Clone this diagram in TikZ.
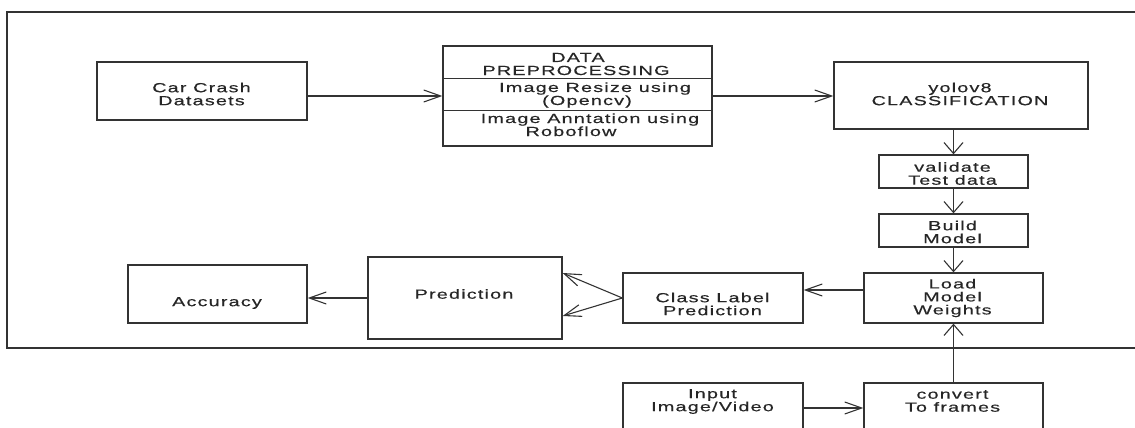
\documentclass[tikz,border=0pt]{standalone}
\usepackage{fontspec}
\setmainfont{Liberation Sans}[FakeStretch=1.5,LetterSpace=9,FakeBold=0.4]
\usetikzlibrary{arrows.meta}
\definecolor{linec}{HTML}{333333}
\definecolor{txtc}{HTML}{262626}
\tikzset{
  box/.style={draw=linec, line width=1.3pt, inner sep=0pt},
  txt/.style={text=txtc, font=\fontsize{13.2}{13}\selectfont, align=center, inner sep=0pt},
  harr/.style={draw=linec, line width=1.1pt, -{Straight Barb[length=17pt,width=12pt]}},
  varr/.style={draw=linec, line width=1.1pt, -{Straight Barb[length=11pt,width=19pt]}},
}
\begin{document}
\begin{tikzpicture}[x=1pt,y=-1pt]
\useasboundingbox (0,0) rectangle (1135,428);
\clip (0,0) rectangle (1135,428);
% outer frame
\draw[draw=linec, line width=1.4pt] (1136,12) -- (7,12) -- (7,348) -- (1136,348);
% boxes
\node[box, minimum width=210pt, minimum height=58pt] (cc) at (202,91) {};
\node[box, minimum width=269pt, minimum height=100pt] (dp) at (577.5,96) {};
\node[box, minimum width=254pt, minimum height=67pt] (yolo) at (961,95.5) {};
\node[box, minimum width=149pt, minimum height=33pt] (val) at (953.5,171.5) {};
\node[box, minimum width=149pt, minimum height=33pt] (build) at (953.5,230.5) {};
\node[box, minimum width=179pt, minimum height=50pt] (load) at (953.5,298) {};
\node[box, minimum width=180pt, minimum height=50pt] (cls) at (713,298) {};
\node[box, minimum width=194pt, minimum height=82pt] (pred) at (465,298) {};
\node[box, minimum width=179pt, minimum height=58pt] (acc) at (217.5,294) {};
\node[box, minimum width=180pt, minimum height=60pt] (inp) at (713,413) {};
\node[box, minimum width=179pt, minimum height=60pt] (conv) at (953.5,413) {};
% dividers in data preprocessing
\coordinate (d1) at (443,79);
\coordinate (d2) at (443,110);
\draw[draw=linec, line width=1pt] (d1) -- (dp.east |- d1);
\draw[draw=linec, line width=1pt] (d2) -- (dp.east |- d2);
% texts
\node[txt] (tcc) at (201.5,94) {Car Crash\\Datasets};
\node[txt, anchor=base] (tdp1) at (578,62) {DATA};
\node[txt, anchor=base] (tdp2) at (576,75) {PREPROCESSING};
\node[txt, anchor=base] (tdp3) at (595,92) {Image Resize using};
\node[txt, anchor=base] (tdp4) at (587,105) {(Opencv)};
\node[txt, anchor=base] (tdp5) at (590,123) {Image Anntation using};
\node[txt, anchor=base] (tdp6) at (571,136) {Roboflow};
\node[txt] (tyolo) at (960,94) {yolov8\\CLASSIFICATION};
\node[txt] (tval) at (952.5,173.5) {validate\\Test data};
\node[txt] (tbuild) at (952.5,232) {Build\\Model};
\node[txt] (tload) at (952.5,298) {Load\\Model\\Weights};
\node[txt] (tcls) at (712.5,304) {Class Label\\Prediction};
\node[txt] (tpred) at (464,294) {Prediction};
\node[txt] (tacc) at (217,303) {Accuracy};
\node[txt] (tinp) at (712.5,401.5) {Input\\Image/Video};
\node[txt] (tconv) at (952.5,401) {convert\\To frames};
% connectors
\draw[harr] (cc.east |- dp.west) -- (dp.west);
\draw[harr] (dp.east) -- (yolo.west |- dp.east);
\draw[varr] (yolo.south -| val.north) -- (val.north);
\draw[varr] (val.south) -- (build.north);
\draw[varr] (build.south) -- (load.north);
\coordinate (lw) at ([yshift=8pt]load.west);
\draw[harr] (lw) -- (cls.east |- lw);
\draw[harr] (cls.west) -- ([yshift=25pt]pred.east);
\draw[harr] (cls.west) -- ([yshift=-18pt]pred.east);
\draw[harr] (pred.west) -- (acc.east |- pred.west);
\coordinate (ie) at ([yshift=5pt]inp.east);
\draw[harr] (ie) -- (conv.west |- ie);
\draw[varr] (conv.north) -- (load.south);
\end{tikzpicture}
\end{document}
